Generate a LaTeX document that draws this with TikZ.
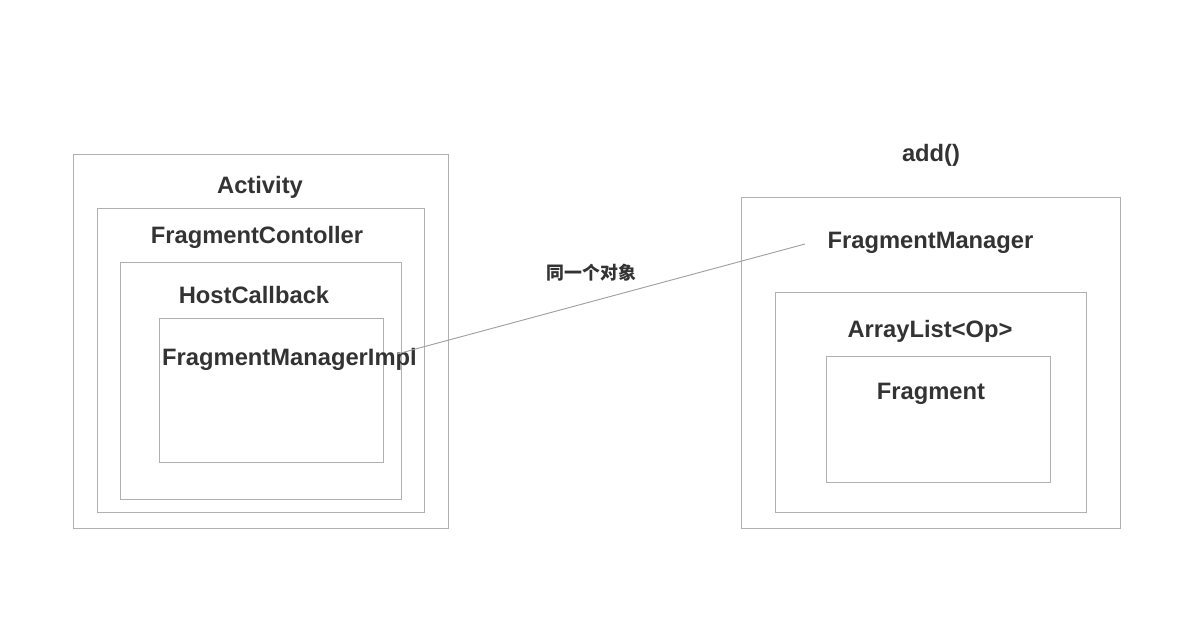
\documentclass[tikz,border=0pt]{standalone}
\usepackage{fontspec}
\setmainfont{Liberation Sans}
\newfontfamily\cjk{Noto Sans CJK SC}
\usetikzlibrary{fit}
\definecolor{framegray}{HTML}{B0B0B0}
\definecolor{linkgray}{HTML}{A0A0A0}
\definecolor{textgray}{HTML}{333333}
\begin{document}
\begin{tikzpicture}[x=0.75pt,y=-0.75pt,
    frame/.style={rectangle,draw=framegray,line width=0.7pt,inner sep=0pt},
    title/.style={anchor=base,inner sep=0pt,text=textgray,font=\fontsize{17.8}{20}\selectfont\bfseries}]
    \useasboundingbox (0,0) rectangle (1184,622);
    % left side
    \node[frame,fit={(73,154) (448,528)}] (activity) {};
    \node[frame,fit={(97,208) (424,512)}] (controller) {};
    \node[frame,fit={(120,262) (401,499)}] (callback) {};
    \node[frame,fit={(159,318) (383,462)}] (impl) {};
    \node[title] at (260,193.5) (activitytext) {Activity};
    \node[title] at (257,243) (controllertext) {FragmentContoller};
    \node[title] at (254,303) (callbacktext) {HostCallback};
    \node[title] at (289.5,365) (impltext) {FragmentManagerImpl};
    % right side
    \node[frame,fit={(741,197) (1120,528)}] (manager) {};
    \node[frame,fit={(775,292) (1086,512)}] (oplist) {};
    \node[frame,fit={(826,356) (1050,482)}] (fragment) {};
    \node[title] at (931,161) (addtext) {add()};
    \node[title] at (930.5,248) (managertext) {FragmentManager};
    \node[title] at (930,337) (oplisttext) {ArrayList<Op>};
    \node[title] at (931,399) (fragmenttext) {Fragment};
    % link
    \coordinate (from) at (397,354);
    \coordinate (to) at (805,244);
    \draw[linkgray,line width=0.7pt] (from) -- (to);
    \node[anchor=base,inner sep=0pt,text=textgray,font=\cjk\fontsize{13.4}{15}\selectfont\bfseries] at (591.5,279) (sametext) {同一个对象};
\end{tikzpicture}
\end{document}
